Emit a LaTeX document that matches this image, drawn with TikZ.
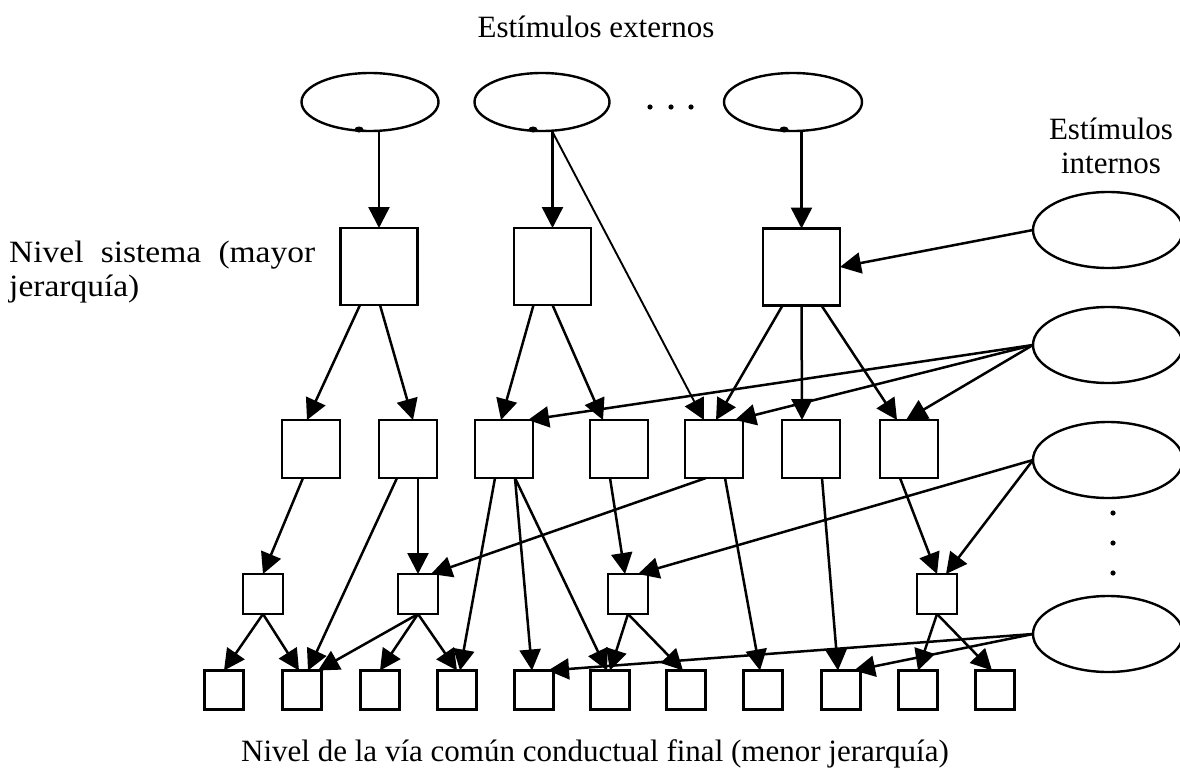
\documentclass[tikz,border=0pt]{standalone}
\usepackage{fontspec}
\setmainfont{Liberation Serif}
\usetikzlibrary{arrows.meta,calc,shapes.geometric}
\begin{document}
\begin{tikzpicture}[x=1pt,y=-1pt,
  every node/.style={font=\fontsize{31}{36}\selectfont},
  box/.style={draw,line width=2.7pt,minimum size=#1,inner sep=0pt,outer sep=0pt},
  stim/.style={draw,ellipse,line width=2.4pt,minimum width=#1,minimum height=58pt,inner sep=0pt,outer sep=0pt},
  istim/.style={draw,ellipse,line width=2.4pt,minimum width=150pt,minimum height=76pt,inner sep=0pt,outer sep=0pt},
  arr/.style={line width=2.5pt,-{Triangle[length=21pt,width=21pt]}},
  thinarr/.style={line width=1.9pt,-{Triangle[length=21pt,width=21pt]}},
  lbl/.style={inner sep=0pt,anchor=base},
  dotmark/.style={fill=black}
]
\useasboundingbox (0,0) rectangle (1180,771);

% external stimuli
\node[stim=137pt] (E1) at (370,102) {};
\node[stim=135pt] (E2) at (542,102) {};
\node[stim=138pt] (E3) at (793,102) {};
\fill[dotmark] (359,129.5) ellipse (4.5pt and 3pt);
\fill[dotmark] (533,129.5) ellipse (4.5pt and 3pt);
\fill[dotmark] (784,129.5) ellipse (4.5pt and 3pt);
\foreach \x in {650,671,691} \fill[dotmark] (\x,107) circle (2.6pt);

% internal stimuli
\node[istim] (R1) at (1108,230) {};
\node[istim] (R2) at (1108,345) {};
\node[istim] (R3) at (1108,460) {};
\node[istim] (R4) at (1108,634) {};
\foreach \y in {513,543,573} \fill[dotmark] (1113,\y) circle (2.6pt);

% system level
\node[box=77pt] (S1) at (379,266.5) {};
\node[box=77pt] (S2) at (552.5,266.5) {};
\node[box=77pt] (S3) at (801.5,267) {};

% second level
\foreach \x/\n in {311/A,408/B,504/C,619/D,714/E,811/F,909/G}
  \node[box=58pt] (\n) at (\x,449) {};

% third level
\foreach \x/\n in {263/a,418/b,628/c,937/d}
  \node[box=40pt] (\n) at (\x,594) {};

% final common path
\foreach \x [count=\i] in {224,302,380,457,534,610,686,763,841,918,995}
  \node[box=39pt] (f\i) at (\x,690) {};

% labels
\node[lbl] (tExt) at (596,37) {Estímulos externos};
\node[lbl] (tInt1) at (1111,139) {Estímulos};
\node[lbl] (tInt2) at (1111,173) {internos};
\node[lbl,anchor=base west] (tSys1) at (9,262)
  {\addfontfeature{FakeStretch=1.08}\makebox[306pt][s]{Nivel sistema (mayor}};
\node[lbl,anchor=base west] (tSys2) at (9,296)
  {\addfontfeature{FakeStretch=1.08}jerarquía)};
\node[lbl] (tFin) at (595,761) {Nivel de la vía común conductual final (menor jerarquía)};

% stimuli to system level
\draw[arr] (S1.north |- E1.south) -- (S1.north);
\draw[arr] (S2.north |- E2.south) -- (S2.north);
\draw[arr] (S3.north |- E3.south) -- (S3.north);
\draw[thinarr] ($(E2.south)+(10,0)$) -- ($(E.north)+(-10,0)$);
\draw[arr] (R1.west) -- (S3.east);

% system level to second level
\draw[arr] ($(S1.south)+(-19,0)$) -- ($(A.north)+(-4,0)$);
\draw[arr] ($(S1.south)+(1,0)$) -- ($(B.north)+(5,0)$);
\draw[arr] ($(S2.south)+(-19,0)$) -- ($(C.north)+(-3,0)$);
\draw[arr] (S2.south) -- ($(D.north)+(-16,0)$);
\draw[arr] ($(S3.south)+(-19,0)$) -- ($(E.north)+(2,0)$);
\draw[arr] (S3.south) -- ($(F.north)+(-9,0)$);
\draw[arr] ($(S3.south)+(20,0)$) -- ($(G.north)+(-12,0)$);
\draw[arr] (R2.west) -- ($(C.north)+(24,0)$);
\draw[arr] (R2.west) -- ($(E.north)+(21,0)$);
\draw[arr] (R2.west) -- ($(G.north)+(-3,0)$);

% second level to third level and below
\draw[arr] ($(A.south)+(-8,0)$) -- (a.north);
\draw[arr] (b.north |- B.south) -- (b.north);
\draw[arr] ($(B.south)+(-11,0)$) -- ($(f2.north)+(6,0)$);
\draw[arr] ($(C.south)+(-9,0)$) -- ($(f4.north)+(3,0)$);
\draw[arr] ($(C.south)+(11,0)$) -- ($(f5.north)+(-2,0)$);
\draw[arr] ($(C.south)+(11,0)$) -- ($(f6.north)+(-3,0)$);
\draw[arr] ($(D.south)+(-9,0)$) -- ($(c.north)+(-3,0)$);
\draw[arr] ($(E.south)+(-8,0)$) -- ($(b.north)+(13,0)$);
\draw[arr] ($(E.south)+(11,0)$) -- ($(f8.north)+(-3,0)$);
\draw[arr] ($(F.south)+(11,0)$) -- ($(f9.north)+(-3,0)$);
\draw[arr] ($(G.south)+(-9,0)$) -- (d.north);
\draw[arr] (R3.west) -- ($(d.north)+(9,0)$);
\draw[arr] (R3.west) -- ($(c.north)+(10,0)$);

% third level to final common path
\draw[arr] (a.south) -- (f1.north);
\draw[arr] (a.south) -- ($(f2.north)+(-3,0)$);
\draw[arr] (b.south) -- ($(f2.north)+(16,0)$);
\draw[arr] (b.south) -- (f3.north);
\draw[arr] (b.south) -- (f4.north);
\draw[arr] (c.south) -- (f6.north);
\draw[arr] (c.south) -- ($(f7.north)+(-3,0)$);
\draw[arr] (d.south) -- (f10.north);
\draw[arr] (d.south) -- ($(f11.north)+(-3,0)$);
\draw[arr] (R4.west) -- ($(f5.north)+(14,0)$);
\draw[arr] (R4.west) -- ($(f9.north)+(13,0)$);
\end{tikzpicture}
\end{document}
